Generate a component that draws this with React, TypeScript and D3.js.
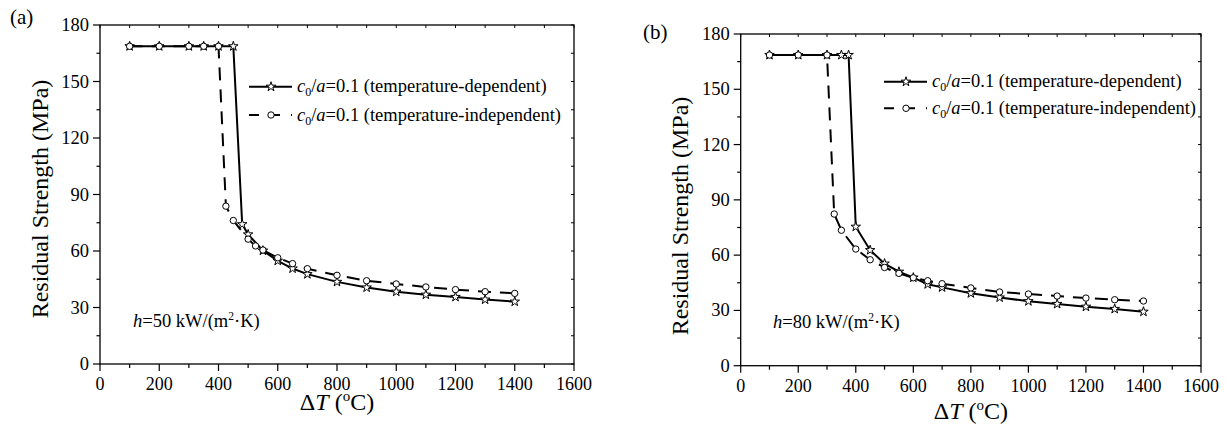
import React from "react";
import * as d3 from "d3";

// ---------- data ----------
const xTicks = [0, 200, 400, 600, 800, 1000, 1200, 1400, 1600];
const yTicks = [0, 30, 60, 90, 120, 150, 180];

const aDepX = [100, 200, 300, 350, 400, 450, 480, 500, 550, 600, 650, 700, 800, 900, 1000, 1100, 1200, 1300, 1400];
const aDepY = [168.7, 168.7, 168.7, 168.7, 168.7, 168.7, 74.2, 68.8, 60.2, 54.8, 50.7, 47.7, 43.6, 40.6, 38.4, 36.8, 35.6, 34.2, 33.1];
const aIndX = [100, 200, 300, 350, 400, 425, 450, 500, 525, 550, 600, 650, 700, 800, 900, 1000, 1100, 1200, 1300, 1400];
const aIndY = [168.7, 168.7, 168.7, 168.7, 168.7, 83.8, 76.2, 66.3, 62.7, 60.5, 56.4, 53.3, 50.6, 47.1, 44.2, 42.5, 40.9, 39.5, 38.4, 37.5];

const bDepX = [100, 200, 300, 350, 375, 400, 450, 500, 550, 600, 650, 700, 800, 900, 1000, 1100, 1200, 1300, 1400];
const bDepY = [168.6, 168.6, 168.6, 168.6, 168.6, 75.4, 62.7, 55.4, 51.0, 47.8, 44.2, 42.5, 39.3, 37.0, 35.0, 33.5, 32.0, 30.8, 29.3];
const bIndX = [100, 200, 300, 325, 350, 400, 450, 500, 550, 600, 650, 700, 800, 900, 1000, 1100, 1200, 1300, 1400];
const bIndY = [168.6, 168.6, 168.6, 82.3, 73.5, 63.3, 57.5, 53.3, 50.1, 47.7, 46.1, 44.5, 42.2, 40.0, 38.9, 37.8, 36.7, 35.8, 35.1];

const legendDep = "(temperature-dependent)";
const legendInd = "(temperature-independent)";

const FONT = "'Liberation Serif', 'Times New Roman', serif";

type PanelProps = {
  label: string;
  hValue: string;
  depX: number[]; depY: number[]; indX: number[]; indY: number[];
  L: number; R: number; T: number; B: number;
  labelX: number; labelY: number;
  yTitleX: number; yTitleCY: number; xTitleY: number;
  legX: number; legY1: number; legY2: number;
  hX: number; hY: number;
};

const star = d3.symbol().type(d3.symbolStar).size(28)();

function Legend({ x, y, dashed, text }: { x: number; y: number; dashed: boolean; text: string }) {
  return (
    <g>
      <line x1={x} x2={x + 43} y1={y} y2={y} stroke="#000" strokeWidth={2}
        strokeDasharray={dashed ? "10 11" : undefined} />
      {dashed ? (
        <circle cx={x + 22} cy={y} r={3.2} fill="#fff" stroke="#000" strokeWidth={1} />
      ) : (
        <path d={star} transform={`translate(${x + 22},${y})`} fill="#fff" stroke="#000" strokeWidth={1} />
      )}
      <text x={x + 48} y={y + 5.5} fontSize={18.5} fontFamily={FONT}>
        <tspan fontStyle="italic">c</tspan>
        <tspan fontSize={12} dy={4}>0</tspan>
        <tspan dy={-4}>/</tspan>
        <tspan fontStyle="italic">a</tspan>
        <tspan>=0.1 {text}</tspan>
      </text>
    </g>
  );
}

function Panel(p: PanelProps) {
  const x = d3.scaleLinear().domain([0, 1600]).range([p.L, p.R]);
  const y = d3.scaleLinear().domain([0, 180]).range([p.B, p.T]);
  const depPts: [number, number][] = p.depX.map((v, i) => [x(v), y(p.depY[i])]);
  const indPts: [number, number][] = p.indX.map((v, i) => [x(v), y(p.indY[i])]);
  const lg = d3.line();
  const minorX = d3.range(100, 1600, 200);
  const minorY = d3.range(15, 180, 30);
  const allX = d3.range(0, 1601, 100);
  const allY = d3.range(0, 181, 15);
  return (
    <g fontFamily={FONT}>
      <text x={p.labelX} y={p.labelY} fontSize={21}>{p.label}</text>
      {/* frame */}
      <rect x={p.L} y={p.T} width={p.R - p.L} height={p.B - p.T} fill="none" stroke="#000" strokeWidth={1.3} />
      {/* bottom ticks */}
      {xTicks.map((t) => (
        <g key={"xt" + t}>
          <line x1={x(t)} x2={x(t)} y1={p.B} y2={p.B + 7} stroke="#000" strokeWidth={1.2} />
          <text x={x(t)} y={p.B + 26} fontSize={18} textAnchor="middle">{t}</text>
        </g>
      ))}
      {minorX.map((t) => (
        <line key={"xm" + t} x1={x(t)} x2={x(t)} y1={p.B} y2={p.B + 4} stroke="#000" strokeWidth={1.2} />
      ))}
      {/* left ticks */}
      {yTicks.map((t) => (
        <g key={"yt" + t}>
          <line x1={p.L - 7} x2={p.L} y1={y(t)} y2={y(t)} stroke="#000" strokeWidth={1.2} />
          <text x={p.L - 11} y={y(t) + 6} fontSize={18.5} textAnchor="end">{t}</text>
        </g>
      ))}
      {minorY.map((t) => (
        <line key={"ym" + t} x1={p.L - 3.5} x2={p.L} y1={y(t)} y2={y(t)} stroke="#000" strokeWidth={1.2} />
      ))}
      {/* top & right inner ticks */}
      {allX.map((t) => (
        <line key={"tt" + t} x1={x(t)} x2={x(t)} y1={p.T} y2={p.T + 3} stroke="#000" strokeWidth={1} />
      ))}
      {allY.map((t) => (
        <line key={"rt" + t} x1={p.R - 3} x2={p.R} y1={y(t)} y2={y(t)} stroke="#000" strokeWidth={1} />
      ))}
      {/* titles */}
      <text transform={`translate(${p.yTitleX},${p.yTitleCY}) rotate(-90)`} fontSize={24} textAnchor="middle">
        Residual Strength (MPa)
      </text>
      <text x={(p.L + p.R) / 2} y={p.xTitleY} fontSize={24} textAnchor="middle">
        Δ<tspan fontStyle="italic">T</tspan> (<tspan fontSize={15} dy={-9}>o</tspan><tspan dy={9}>C)</tspan>
      </text>
      <text x={p.hX} y={p.hY} fontSize={18.5}>
        <tspan fontStyle="italic">h</tspan>={p.hValue} kW/(m<tspan fontSize={11.5} dy={-7}>2</tspan><tspan dy={7}>·K)</tspan>
      </text>
      {/* series */}
      <path d={lg(depPts) || ""} fill="none" stroke="#000" strokeWidth={2} />
      <path d={lg(indPts) || ""} fill="none" stroke="#000" strokeWidth={2} strokeDasharray="13 9" />
      {depPts.map((pt, i) => (
        <path key={"s" + i} d={star} transform={`translate(${pt[0]},${pt[1]})`} fill="#fff" stroke="#000" strokeWidth={1} />
      ))}
      {indPts.map((pt, i) => (
        <circle key={"c" + i} cx={pt[0]} cy={pt[1]} r={3.2} fill="#fff" stroke="#000" strokeWidth={1} />
      ))}
      <Legend x={p.legX} y={p.legY1} dashed={false} text={legendDep} />
      <Legend x={p.legX} y={p.legY2} dashed={true} text={legendInd} />
    </g>
  );
}

export default function App() {
  return (
    <svg width={1225} height={434} style={{ position: "absolute", left: 0, top: 0, background: "#fff" }}>
      <rect width={1225} height={434} fill="#fff" />
      <Panel label="(a)" hValue="50" depX={aDepX} depY={aDepY} indX={aIndX} indY={aIndY}
        L={100} R={574} T={25} B={364}
        labelX={10} labelY={24}
        yTitleX={48} yTitleCY={199} xTitleY={410}
        legX={249} legY1={86.7} legY2={115}
        hX={133} hY={327} />
      <Panel label="(b)" hValue="80" depX={bDepX} depY={bDepY} indX={bIndX} indY={bIndY}
        L={740.7} R={1201} T={34} B={365.7}
        labelX={643} labelY={39}
        yTitleX={688} yTitleCY={216} xTitleY={419}
        legX={884} legY1={81.7} legY2={108.3}
        hX={773} hY={328} />
    </svg>
  );
}
